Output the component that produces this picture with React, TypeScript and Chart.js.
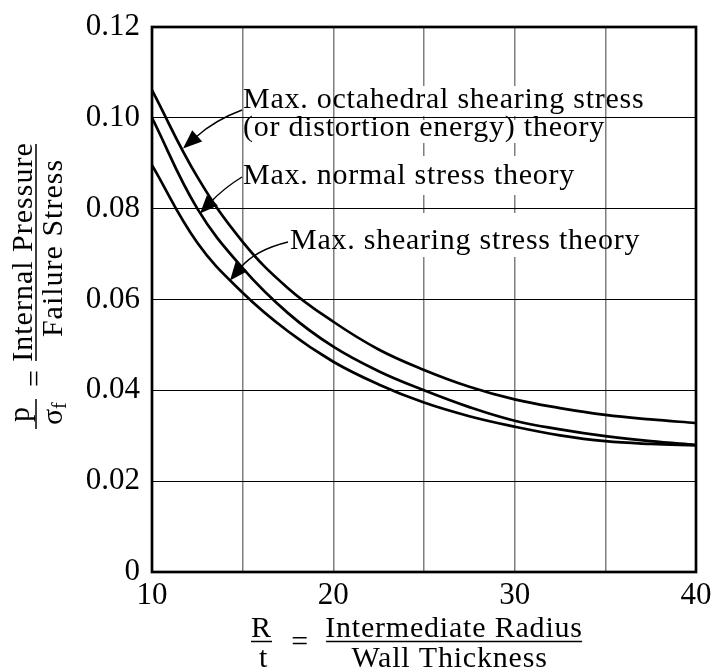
import React, { useEffect, useRef } from "react";
import { Chart, registerables } from "chart.js";

Chart.register(...registerables);

const ratioX: number[] = [10, 12.5, 15, 17.5, 20, 22.5, 25, 27.5, 30, 32.5, 35, 37.5, 40];
const octahedral: number[] = [0.1061, 0.087, 0.0727, 0.0625, 0.0551, 0.049, 0.0445, 0.0408, 0.038, 0.0361, 0.0346, 0.0336, 0.0328];
const normalStress: number[] = [0.1, 0.08, 0.0669, 0.057, 0.0496, 0.0442, 0.04, 0.0363, 0.0333, 0.0314, 0.0299, 0.0288, 0.028];
const shearing: number[] = [0.0896, 0.0725, 0.0615, 0.053, 0.0463, 0.0413, 0.0373, 0.0343, 0.032, 0.0301, 0.0288, 0.0282, 0.0279];

const seriesNames: string[] = [
  "Max. octahedral shearing stress (or distortion energy) theory",
  "Max. normal stress theory",
  "Max. shearing stress theory",
];
const xTickLabels: number[] = [10, 20, 30, 40];
const brokenGridX: number[] = [25, 30];

const FONT = "'Liberation Serif', 'Times New Roman', serif";

function drawArrow(ctx: CanvasRenderingContext2D, sx: number, sy: number, cx: number, cy: number, tx: number, ty: number, len: number, hw: number) {
  const dx = tx - cx;
  const dy = ty - cy;
  const d = Math.hypot(dx, dy);
  const ux = dx / d;
  const uy = dy / d;
  const bx = tx - ux * len;
  const by = ty - uy * len;
  ctx.beginPath();
  ctx.moveTo(sx, sy);
  ctx.quadraticCurveTo(cx, cy, bx + ux * 2, by + uy * 2);
  ctx.lineWidth = 1.4;
  ctx.strokeStyle = "#000";
  ctx.stroke();
  ctx.beginPath();
  ctx.moveTo(tx, ty);
  ctx.lineTo(bx - uy * hw, by + ux * hw);
  ctx.lineTo(bx + uy * hw, by - ux * hw);
  ctx.closePath();
  ctx.fillStyle = "#000";
  ctx.fill();
}

const gapPlugin = {
  id: "gaps",
  beforeDatasetsDraw(chart: any) {
    const ctx: CanvasRenderingContext2D = chart.ctx;
    const xs = chart.scales.x;
    ctx.save();
    ctx.fillStyle = "#fff";
    const rows = [
      [86, 116],
      [120, 143],
      [156, 195],
      [213, 257],
    ];
    brokenGridX.forEach((v) => {
      const px = xs.getPixelForValue(v);
      rows.forEach(([y0, y1]) => ctx.fillRect(px - 2, y0, 4, y1 - y0));
    });
    ctx.restore();
  },
};

const overlayPlugin = {
  id: "overlay",
  afterDraw(chart: any) {
    const ctx: CanvasRenderingContext2D = chart.ctx;
    const a = chart.chartArea;
    ctx.save();
    // frame
    ctx.strokeStyle = "#000";
    ctx.lineWidth = 2.7;
    ctx.strokeRect(a.left, a.top, a.right - a.left, a.bottom - a.top);

    // annotations
    ctx.fillStyle = "#000";
    ctx.textAlign = "left";
    ctx.textBaseline = "alphabetic";
    (ctx as any).letterSpacing = "0.75px";
    ctx.font = `30px ${FONT}`;
    ctx.fillText("Max. octahedral shearing stress", 243, 108);
    ctx.fillText("(or distortion energy) theory", 243, 136);
    ctx.fillText("Max. normal stress theory", 243, 184);
    ctx.fillText("Max. shearing stress theory", 290, 249);

    drawArrow(ctx, 242, 110, 215, 120, 183, 148.5, 19, 7.5);
    drawArrow(ctx, 242, 177, 224, 188, 200, 213.5, 18, 7.5);
    drawArrow(ctx, 288, 242, 255, 250, 230, 280.5, 18, 7.5);

    // x-axis title
    (ctx as any).letterSpacing = "0.8px";
    ctx.font = `30px ${FONT}`;
    ctx.textAlign = "center";
    ctx.fillText("R", 261.5, 637);
    ctx.fillText("t", 263.5, 667);
    ctx.fillText("=", 300, 651);
    ctx.fillText("Intermediate Radius", 454, 637);
    ctx.fillText("Wall Thickness", 449.5, 667);
    ctx.lineWidth = 1.5;
    ctx.beginPath();
    ctx.moveTo(251, 641.5);
    ctx.lineTo(272, 641.5);
    ctx.moveTo(326, 641.5);
    ctx.lineTo(582, 641.5);
    ctx.stroke();

    // y-axis title (rotated)
    ctx.save();
    ctx.rotate(-Math.PI / 2);
    (ctx as any).letterSpacing = "1px";
    ctx.font = `30px ${FONT}`;
    ctx.textAlign = "center";
    ctx.fillText("Internal Pressure", -252, 32);
    ctx.fillText("Failure Stress", -248, 62);
    ctx.fillText("=", -378, 44);
    ctx.fillText("p", -414, 29);
    ctx.textAlign = "left";
    ctx.fillText("\u03c3", -425, 62);
    ctx.font = `20px ${FONT}`;
    ctx.fillText("f", -409, 66);
    ctx.lineWidth = 1.5;
    ctx.beginPath();
    ctx.moveTo(-144, 36);
    ctx.lineTo(-361, 36);
    ctx.moveTo(-399, 36);
    ctx.lineTo(-429, 36);
    ctx.stroke();
    ctx.restore();

    ctx.restore();
  },
};

export default function App() {
  const ref = useRef<HTMLCanvasElement | null>(null);
  useEffect(() => {
    if (!ref.current) return;
    const mk = (vals: number[]) => ratioX.map((x, i) => ({ x, y: vals[i] }));
    const chart = new Chart(ref.current, {
      type: "line",
      data: {
        datasets: [octahedral, normalStress, shearing].map((vals, i) => ({
          label: seriesNames[i],
          data: mk(vals),
          borderColor: "#000",
          borderWidth: 2.7,
          pointRadius: 0,
          fill: false,
          tension: 0.4,
        })),
      },
      options: {
        responsive: false,
        animation: false,
        devicePixelRatio: 1,
        layout: { padding: { left: 0, right: 18, top: 27, bottom: 0 } },
        plugins: { legend: { display: false }, tooltip: { enabled: false } },
        scales: {
          x: {
            type: "linear",
            min: 10,
            max: 40,
            afterFit: (s: any) => {
              s.height = 98;
              s.paddingLeft = 0;
              s.paddingRight = 0;
            },
            border: { display: false },
            grid: { color: "#7f7f7f", lineWidth: 1.5, drawTicks: false },
            ticks: {
              stepSize: 5,
              autoSkip: false,
              maxRotation: 0,
              padding: 5,
              color: "#000",
              font: { family: FONT, size: 31 },
              callback: (v: any) => (xTickLabels.includes(Number(v)) ? String(v) : ""),
            },
          },
          y: {
            min: 0,
            max: 0.12,
            afterFit: (s: any) => {
              s.width = 152;
              s.paddingTop = 0;
              s.paddingBottom = 0;
            },
            border: { display: false },
            grid: { color: "#000", lineWidth: 1, drawTicks: false },
            ticks: {
              stepSize: 0.02,
              padding: 12,
              color: "#000",
              font: { family: FONT, size: 31 },
              callback: (v: any) => (Number(v) === 0 ? "0" : Number(v).toFixed(2)),
            },
          },
        },
      },
      plugins: [gapPlugin, overlayPlugin],
    });
    return () => chart.destroy();
  }, []);
  return (
    <div style={{ position: "fixed", left: 0, top: 0, width: 714, height: 670, background: "#fff" }}>
      <canvas ref={ref} width={714} height={670} />
    </div>
  );
}
